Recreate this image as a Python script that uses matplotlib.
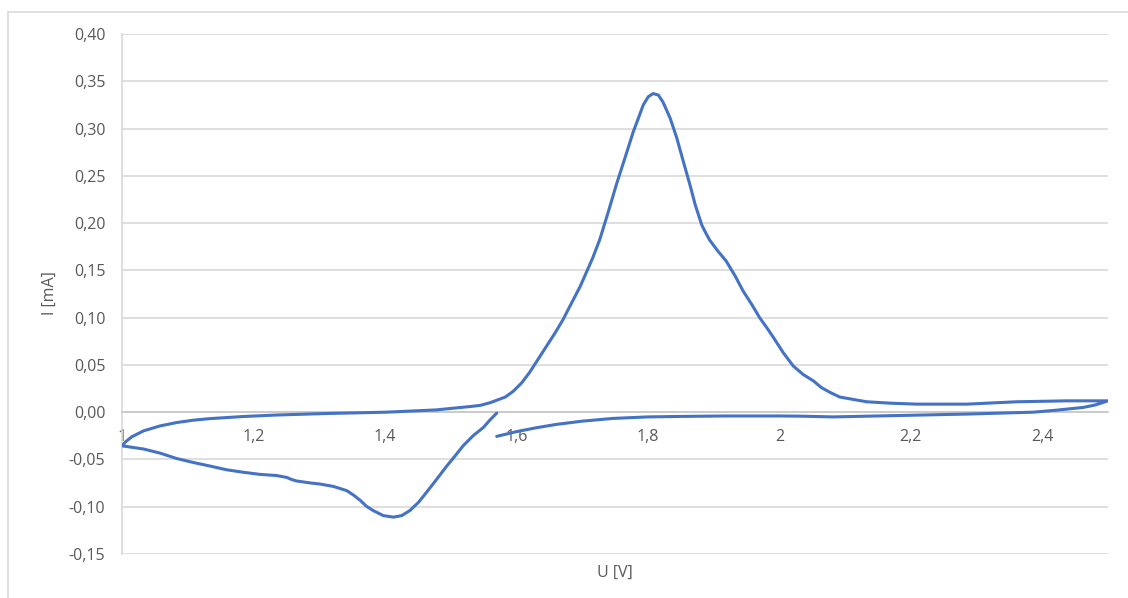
import matplotlib.pyplot as plt
from matplotlib.patches import Rectangle

# cyclic voltammogram: U [V], I [mA]
# cathodic scan 1.57 -> 1.0
u_back = [1.570, 1.560, 1.550, 1.534, 1.519, 1.507, 1.494, 1.479, 1.463, 1.451,
          1.438, 1.4255, 1.413, 1.3975, 1.382, 1.372, 1.362, 1.352, 1.342, 1.3215,
          1.301, 1.287, 1.265, 1.258, 1.2505, 1.235, 1.210, 1.184, 1.159, 1.134,
          1.1085, 1.083, 1.058, 1.033, 1.007, 1.000]
i_back = [-0.001, -0.0081, -0.016, -0.025, -0.0355, -0.046, -0.057, -0.0707, -0.085, -0.0954,
          -0.104, -0.1094, -0.111, -0.1094, -0.104, -0.0996, -0.093, -0.0876, -0.083, -0.0785,
          -0.076, -0.0749, -0.0727, -0.0712, -0.0690, -0.067, -0.0658, -0.0635, -0.0609, -0.057,
          -0.0532, -0.049, -0.0433, -0.039, -0.0363, -0.0356]
# anodic scan 1.0 -> 2.5
u_fwd = [1.000, 1.006, 1.015, 1.033, 1.058, 1.083, 1.108, 1.134, 1.184, 1.235,
         1.311, 1.402, 1.478, 1.530, 1.545, 1.560, 1.583, 1.595, 1.608, 1.620,
         1.633, 1.646, 1.659, 1.671, 1.684, 1.697, 1.705, 1.716, 1.727, 1.740,
         1.752, 1.765, 1.778, 1.7855, 1.793, 1.8007, 1.808, 1.816, 1.823, 1.834,
         1.844, 1.854, 1.864, 1.872, 1.882, 1.887, 1.894, 1.907, 1.919, 1.933,
         1.945, 1.958, 1.970, 1.981, 1.991, 2.006, 2.021, 2.036, 2.052, 2.064,
         2.077, 2.092, 2.133, 2.170, 2.209, 2.285, 2.361, 2.437, 2.500]
i_fwd = [-0.0356, -0.031, -0.026, -0.0197, -0.0145, -0.011, -0.0085, -0.0068, -0.0046, -0.003,
         -0.0014, 0.000, 0.0024, 0.006, 0.0072, 0.010, 0.016, 0.022, 0.031, 0.042,
         0.056, 0.070, 0.084, 0.098, 0.1156, 0.133, 0.1456, 0.163, 0.183, 0.2123,
         0.2405, 0.2686, 0.297, 0.3108, 0.325, 0.3337, 0.337, 0.3354, 0.328, 0.3108,
         0.290, 0.265, 0.2405, 0.2194, 0.198, 0.191, 0.182, 0.170, 0.160, 0.1438,
         0.128, 0.114, 0.100, 0.0893, 0.079, 0.0629, 0.049, 0.040, 0.033, 0.026,
         0.021, 0.016, 0.011, 0.0095, 0.0085, 0.0085, 0.011, 0.012, 0.012]
# return scan 2.5 -> 1.57
u_ret = [2.500, 2.480, 2.462, 2.420, 2.386, 2.285, 2.183, 2.082, 2.031, 2.000,
         1.920, 1.849, 1.800, 1.747, 1.700, 1.660, 1.630, 1.600, 1.570]
i_ret = [0.012, 0.0075, 0.005, 0.002, 0.000, -0.002, -0.0035, -0.005, -0.0042, -0.004,
         -0.004, -0.0045, -0.005, -0.0066, -0.0095, -0.013, -0.0165, -0.0206, -0.0256]

x_ticks = [1.0, 1.2, 1.4, 1.6, 1.8, 2.0, 2.2, 2.4]
x_labels = ["1", "1,2", "1,4", "1,6", "1,8", "2", "2,2", "2,4"]
y_ticks = [-0.15, -0.10, -0.05, 0.00, 0.05, 0.10, 0.15, 0.20, 0.25, 0.30, 0.35, 0.40]
y_labels = ["-0,15", "-0,10", "-0,05", "0,00", "0,05", "0,10", "0,15", "0,20",
            "0,25", "0,30", "0,35", "0,40"]

plt.rcParams["font.family"] = ["Open Sans", "DejaVu Sans"]
grey = "#D9D9D9"
text_grey = "#595959"

fig = plt.figure(figsize=(11.28, 5.98), dpi=100)
fig.patches.append(Rectangle((8 / 1128, -0.1), 1.2, (598 - 12) / 598 + 0.1,
                             transform=fig.transFigure, fill=False,
                             edgecolor=grey, linewidth=1.2))
ax = fig.add_axes((122 / 1128, 1 - 554 / 598, 986 / 1128, 520 / 598))

u = u_back + u_fwd[1:] + u_ret[1:]
i = i_back + i_fwd[1:] + i_ret[1:]
ax.plot(u, i, color="#4472C4", linewidth=2.2, solid_capstyle="round",
        solid_joinstyle="round", zorder=3)

ax.set_xlim(1.0, 2.5)
ax.set_ylim(-0.15, 0.40)
ax.set_xticks(x_ticks)
ax.set_xticklabels(x_labels)
ax.set_yticks(y_ticks)
ax.set_yticklabels(y_labels)
ax.tick_params(axis="both", length=0, colors=text_grey, labelsize=11.5)
ax.tick_params(axis="y", pad=12)
ax.tick_params(axis="x", pad=12)

ax.grid(axis="y", color=grey, linewidth=1.2)
ax.set_axisbelow(True)
for side in ["top", "right"]:
    ax.spines[side].set_visible(False)
ax.spines["bottom"].set_position(("data", 0))
ax.spines["bottom"].set_color("#C8C8C8")
ax.spines["bottom"].set_linewidth(1.2)
ax.spines["left"].set_color(grey)
ax.spines["left"].set_linewidth(1.2)

fig.text(50 / 1128, 1 - 293 / 598, "I [mA]", rotation=90, ha="center", va="center",
         color=text_grey, fontsize=11.5)
fig.text(615 / 1128, 1 - 573 / 598, "U [V]", ha="center", va="center",
         color=text_grey, fontsize=11.5)

fig.savefig("out.png", dpi=100)
